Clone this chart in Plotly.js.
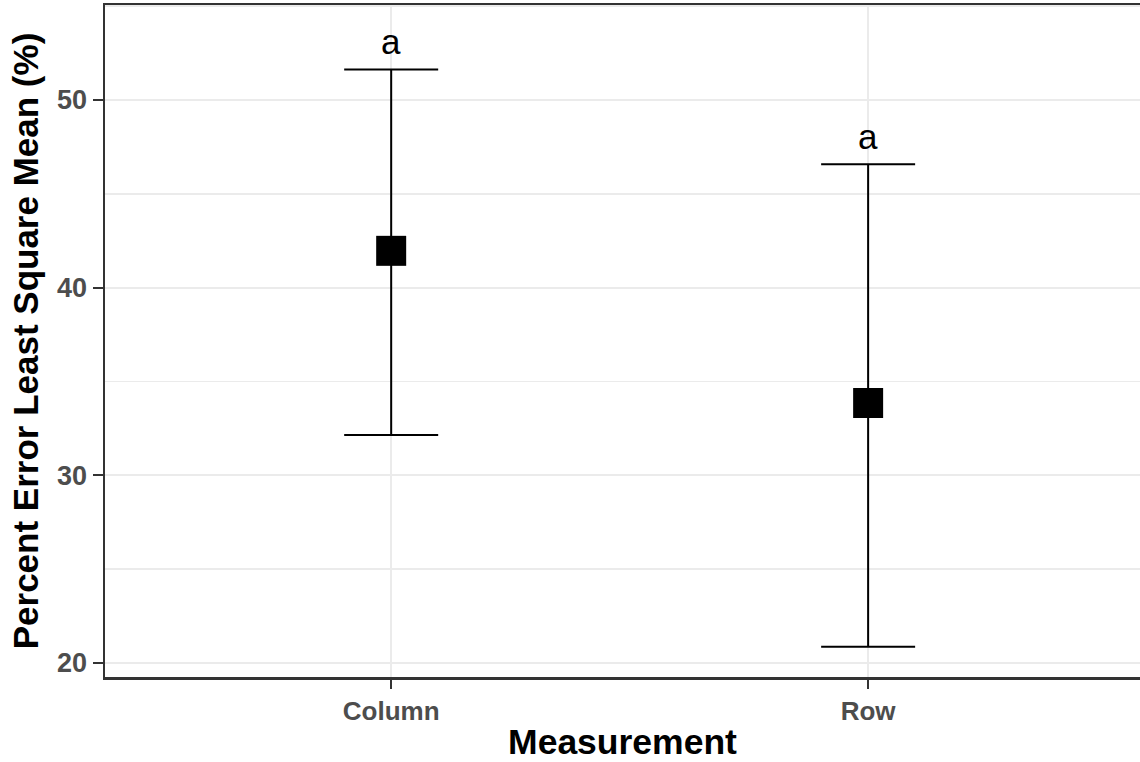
<!DOCTYPE html>
<html>
<head>
<meta charset="utf-8">
<script src="https://cdn.plot.ly/plotly-3.0.1.min.js"></script>
<style>html,body{margin:0;padding:0;background:#fff;overflow:hidden}#chart{width:1140px;height:762px}</style>
</head>
<body>
<div id="chart"></div>
<script>
const categories = ['Column', 'Row'];
const lsMean = [41.96, 33.85];
const upperCL = [51.62, 46.57];
const lowerCL = [32.14, 20.86];
const groupLetters = ['a', 'a'];
const yTicks = [20, 30, 40, 50];

const errPlus = lsMean.map((m, i) => upperCL[i] - m);
const errMinus = lsMean.map((m, i) => m - lowerCL[i]);

const trace = {
  type: 'scatter',
  mode: 'markers',
  x: categories,
  y: lsMean,
  marker: {symbol: 'square', size: 30, color: '#000000'},
  error_y: {
    type: 'data', symmetric: false,
    array: errPlus, arrayminus: errMinus,
    color: '#000000', thickness: 2, width: 47
  },
  showlegend: false,
  hoverinfo: 'x+y'
};

const annotations = categories.map((c, i) => ({
  x: c, y: upperCL[i], xref: 'x', yref: 'y',
  text: groupLetters[i], showarrow: false,
  yanchor: 'middle', yshift: 28,
  font: {family: 'Liberation Sans, Arial, sans-serif', size: 35, color: '#000000'}
}));

const layout = {
  width: 1140, height: 762,
  margin: {l: 105, r: 0, t: 5, b: 85},
  paper_bgcolor: '#ffffff', plot_bgcolor: '#ffffff',
  font: {family: 'Liberation Sans, Arial, sans-serif'},
  xaxis: {
    type: 'category', range: [-0.6, 1.57],
    showline: true, linecolor: '#333333', linewidth: 2.5, mirror: true,
    showgrid: true, gridcolor: '#EBEBEB', gridwidth: 2,
    ticks: 'outside', ticklen: 9, tickwidth: 2, tickcolor: '#333333',
    tickfont: {size: 26, color: '#4D4D4D', weight: 'bold'},
    title: {text: '<b>Measurement</b>', font: {size: 35.5, color: '#000000'}, standoff: 7},
    zeroline: false
  },
  yaxis: {
    range: [19.25, 55.06],
    tickvals: yTicks, ticktext: yTicks.map(String),
    showline: true, linecolor: '#333333', linewidth: 2.5, mirror: false,
    showgrid: true, gridcolor: '#EBEBEB', gridwidth: 2,
    minor: {dtick: 5, tick0: 0, showgrid: true, gridcolor: '#EBEBEB', gridwidth: 1.5, ticks: ''},
    ticks: 'outside', ticklen: 10, tickwidth: 2, tickcolor: '#333333',
    tickfont: {size: 27, color: '#4D4D4D', weight: 'bold'},
    title: {text: '<b>Percent Error Least Square Mean (%)</b>', font: {size: 35, color: '#000000'}, standoff: 8},
    zeroline: false
  },
  annotations: annotations
};

Plotly.newPlot('chart', [trace], layout, {displayModeBar: false, staticPlot: true});
</script>
</body>
</html>
